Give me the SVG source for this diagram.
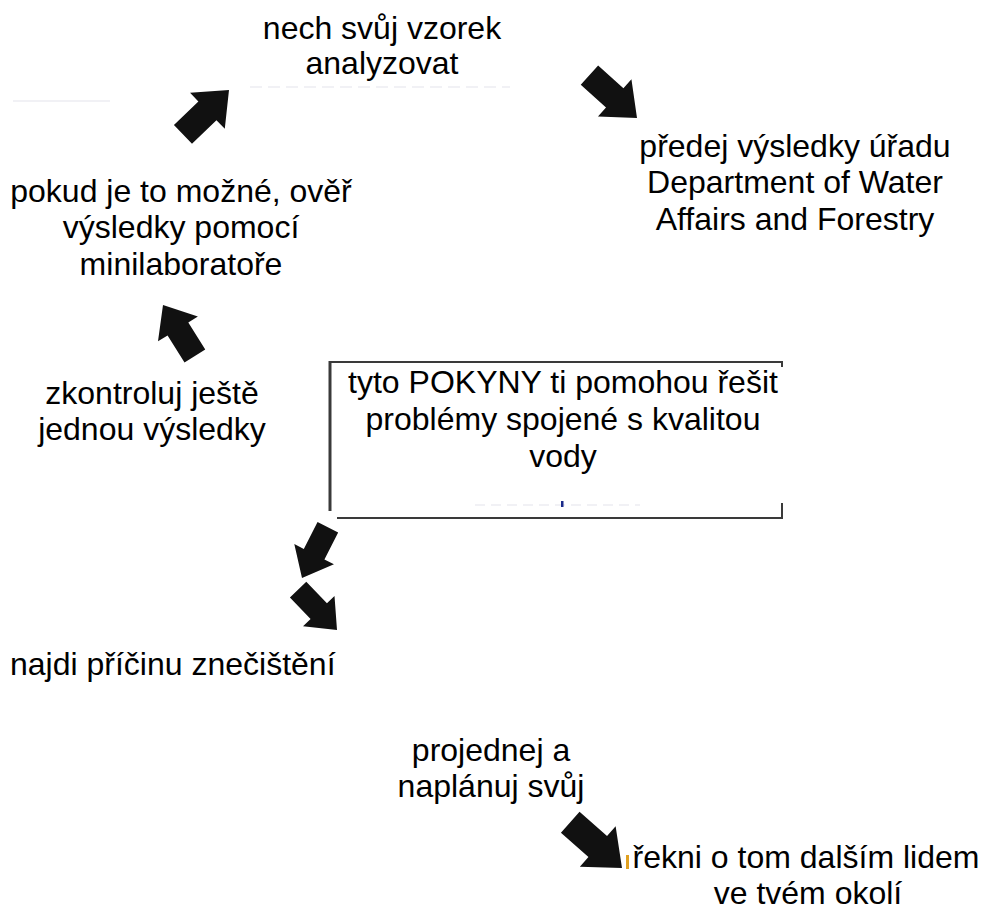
<svg xmlns="http://www.w3.org/2000/svg" width="984" height="922" viewBox="0 0 984 922">
  <style>
    .t { font-family: "Liberation Sans", Arial, sans-serif; font-size: 32px; fill: #000; text-anchor: middle; }
    .frame { stroke: #3a3a3a; fill: none; }
    .faint { stroke: #ededf2; stroke-width: 1.5; fill: none; }
  </style>
  <defs>
    <polygon id="arr" points="0,0 -30,-25 -30,-13 -64,-13 -64,13 -30,13 -30,25" fill="#111"/>
  </defs>
  <rect width="984" height="922" fill="#fff"/>

  <g id="faint-marks">
    <line class="faint" x1="13" y1="101" x2="110" y2="101"/>
    <line class="faint" x1="250" y1="87" x2="510" y2="87" stroke-dasharray="12,6"/>
    <line class="faint" x1="475" y1="505" x2="640" y2="505" stroke-dasharray="10,6"/>
  </g>

  <g id="node-analyze">
    <text class="t" x="382" y="39">nech svůj vzorek</text>
    <text class="t" x="382" y="74">analyzovat</text>
  </g>
  <g id="node-report">
    <text class="t" x="795" y="157">předej výsledky úřadu</text>
    <text class="t" x="795" y="193">Department of Water</text>
    <text class="t" x="795" y="230">Affairs and Forestry</text>
  </g>
  <g id="node-verify">
    <text class="t" x="181" y="202">pokud je to možné, ověř</text>
    <text class="t" x="181" y="238">výsledky pomocí</text>
    <text class="t" x="181" y="275">minilaboratoře</text>
  </g>
  <g id="node-recheck">
    <text class="t" x="152" y="404">zkontroluj ještě</text>
    <text class="t" x="152" y="440">jednou výsledky</text>
  </g>
  <g id="node-center">
    <line class="frame" x1="330" y1="362" x2="783" y2="362" stroke-width="2"/>
    <line class="frame" x1="330" y1="361" x2="330" y2="511" stroke="#555" stroke-width="3"/>
    <line class="frame" x1="337" y1="518" x2="783" y2="518" stroke-width="2"/>
    <line class="frame" x1="782" y1="361" x2="782" y2="367" stroke-width="2"/>
    <line class="frame" x1="782" y1="503" x2="782" y2="519" stroke-width="2"/>
    <rect x="561" y="501" width="2.5" height="6" fill="#1a2a8a"/>
    <text class="t" x="563" y="393">tyto POKYNY ti pomohou řešit</text>
    <text class="t" x="563" y="430">problémy spojené s kvalitou</text>
    <text class="t" x="563" y="467">vody</text>
  </g>
  <g id="node-cause">
    <text class="t" x="10" y="675" style="text-anchor:start">najdi příčinu znečištění</text>
  </g>
  <g id="node-plan">
    <text class="t" x="491" y="761">projednej a</text>
    <text class="t" x="491" y="797">naplánuj svůj</text>
  </g>
  <g id="node-tell">
    <rect x="626" y="855" width="3" height="14" fill="#e0a020"/>
    <text class="t" x="806" y="868">řekni o tom dalším lidem</text>
    <text class="t" x="808" y="904">ve tvém okolí</text>
  </g>

  <g id="connectors">
    <use href="#arr" transform="translate(229,90) rotate(-44)"/>
    <use href="#arr" transform="translate(637,118) rotate(42)"/>
    <use href="#arr" transform="translate(163,305) rotate(-122) scale(0.94)"/>
    <use href="#arr" transform="translate(302,578) rotate(117) scale(0.89)"/>
    <use href="#arr" transform="translate(337,630) rotate(46) scale(0.875)"/>
    <use href="#arr" transform="translate(622,868) rotate(41.5) scale(1.08)"/>
  </g>
</svg>
